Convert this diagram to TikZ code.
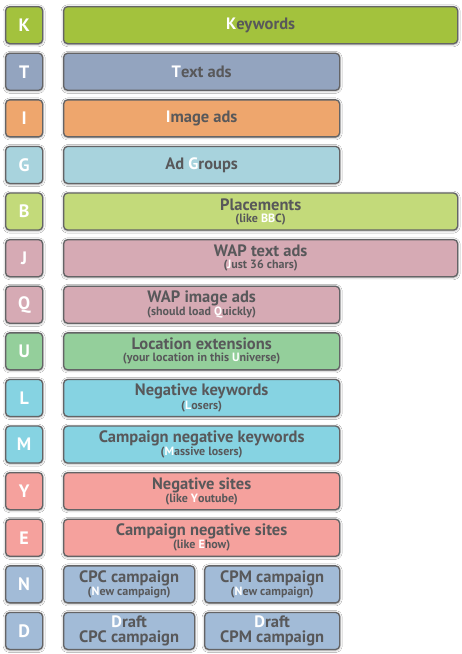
\documentclass[tikz,border=0pt]{standalone}
\usepackage{fontspec}
\setmainfont{PT Sans}
\usetikzlibrary{shadows.blur}
\definecolor{txt}{HTML}{58585A}
\definecolor{edge}{HTML}{646466}
\definecolor{cK}{HTML}{A3C23D}
\definecolor{cT}{HTML}{93A4BF}
\definecolor{cI}{HTML}{EEA66D}
\definecolor{cG}{HTML}{A8D3DD}
\definecolor{cB}{HTML}{C3DA7A}
\definecolor{cJ}{HTML}{D6AAB4}
\definecolor{cU}{HTML}{94CF9B}
\definecolor{cL}{HTML}{86D3E2}
\definecolor{cY}{HTML}{F5A19D}
\definecolor{cN}{HTML}{A2BBD7}
\newcommand{\hl}[1]{\textcolor{white}{#1}}
\newcommand{\bigtxt}{\fontsize{16.5}{14}\selectfont\bfseries}
\newcommand{\smltxt}{\fontsize{12}{12}\selectfont\bfseries}
\tikzset{
  box/.style={draw=edge, line width=1.3pt, rounded corners=4pt, anchor=north west,
    minimum height=37pt, inner sep=0pt, text=txt, align=center,
    blur shadow={shadow xshift=0pt, shadow yshift=-0.6pt, shadow blur radius=2.5pt, shadow opacity=45, shadow scale=1.0}},
  letterbox/.style={box, minimum width=37pt, text=white, font=\fontsize{18}{18}\selectfont\bfseries},
  longbox/.style={box, minimum width=394pt},
  shortbox/.style={box, minimum width=276pt},
  halfbox/.style={box, minimum width=131pt},
  halfboxb/.style={box, minimum width=135pt},
}
\begin{document}
\begin{tikzpicture}[x=1pt,y=-1pt]
\useasboundingbox[fill=white] (0,0) rectangle (462,654);
% row tops: 6 + i*46.6
\node[letterbox, fill=cK] (lK) at (5,6) {K};
\node[longbox, fill=cK, font=\bigtxt] (bK) at (63,6) {\hl{K}eywords};

\node[letterbox, fill=cT] (lT) at (5,52.6) {T};
\node[shortbox, fill=cT, font=\bigtxt] (bT) at (63,52.6) {\hl{T}ext ads};

\node[letterbox, fill=cI] (lI) at (5,99.2) {I};
\node[shortbox, fill=cI, font=\bigtxt] (bI) at (63,99.2) {\hl{I}mage ads};

\node[letterbox, fill=cG] (lG) at (5,145.8) {G};
\node[shortbox, fill=cG, font=\bigtxt] (bG) at (63,145.8) {Ad \hl{G}roups};

\node[letterbox, fill=cB] (lB) at (5,192.4) {B};
\node[longbox, fill=cB] (bB) at (63,192.4) {{\bigtxt Placements}\\[0pt]{\smltxt (like \hl{BB}C)}};

\node[letterbox, fill=cJ] (lJ) at (5,239) {J};
\node[longbox, fill=cJ] (bJ) at (63,239) {{\bigtxt WAP text ads}\\[0pt]{\smltxt (\hl{J}ust 36 chars)}};

\node[letterbox, fill=cJ] (lQ) at (5,285.6) {Q};
\node[shortbox, fill=cJ] (bQ) at (63,285.6) {{\bigtxt WAP image ads}\\[0pt]{\smltxt (should load \hl{Q}uickly)}};

\node[letterbox, fill=cU] (lU) at (5,332.2) {U};
\node[shortbox, fill=cU] (bU) at (63,332.2) {{\bigtxt Location extensions}\\[0pt]{\smltxt (your location in this \hl{U}niverse)}};

\node[letterbox, fill=cL] (lL) at (5,378.8) {L};
\node[shortbox, fill=cL] (bL) at (63,378.8) {{\bigtxt Negative keywords}\\[0pt]{\smltxt (\hl{L}osers)}};

\node[letterbox, fill=cL] (lM) at (5,425.4) {M};
\node[shortbox, fill=cL] (bM) at (63,425.4) {{\bigtxt Campaign negative keywords}\\[0pt]{\smltxt (\hl{M}assive losers)}};

\node[letterbox, fill=cY] (lY) at (5,472) {Y};
\node[shortbox, fill=cY] (bY) at (63,472) {{\bigtxt Negative sites}\\[0pt]{\smltxt (like \hl{Y}outube)}};

\node[letterbox, fill=cY] (lE) at (5,518.6) {E};
\node[shortbox, fill=cY] (bE) at (63,518.6) {{\bigtxt Campaign negative sites}\\[0pt]{\smltxt (like \hl{E}how)}};

\node[letterbox, fill=cN] (lN) at (5,565.2) {N};
\node[halfbox, fill=cN] (bN1) at (63,565.2) {{\bigtxt CPC campaign}\\[0pt]{\smltxt (\hl{N}ew campaign)}};
\node[halfboxb, fill=cN] (bN2) at (204,565.2) {{\bigtxt CPM campaign}\\[0pt]{\smltxt (\hl{N}ew campaign)}};

\node[letterbox, fill=cN] (lD) at (5,611.8) {D};
\node[halfbox, fill=cN, font=\bigtxt] (bD1) at (63,611.8) {\hl{D}raft\\[1pt]CPC campaign};
\node[halfboxb, fill=cN, font=\bigtxt] (bD2) at (204,611.8) {\hl{D}raft\\[1pt]CPM campaign};
\end{tikzpicture}
\end{document}
